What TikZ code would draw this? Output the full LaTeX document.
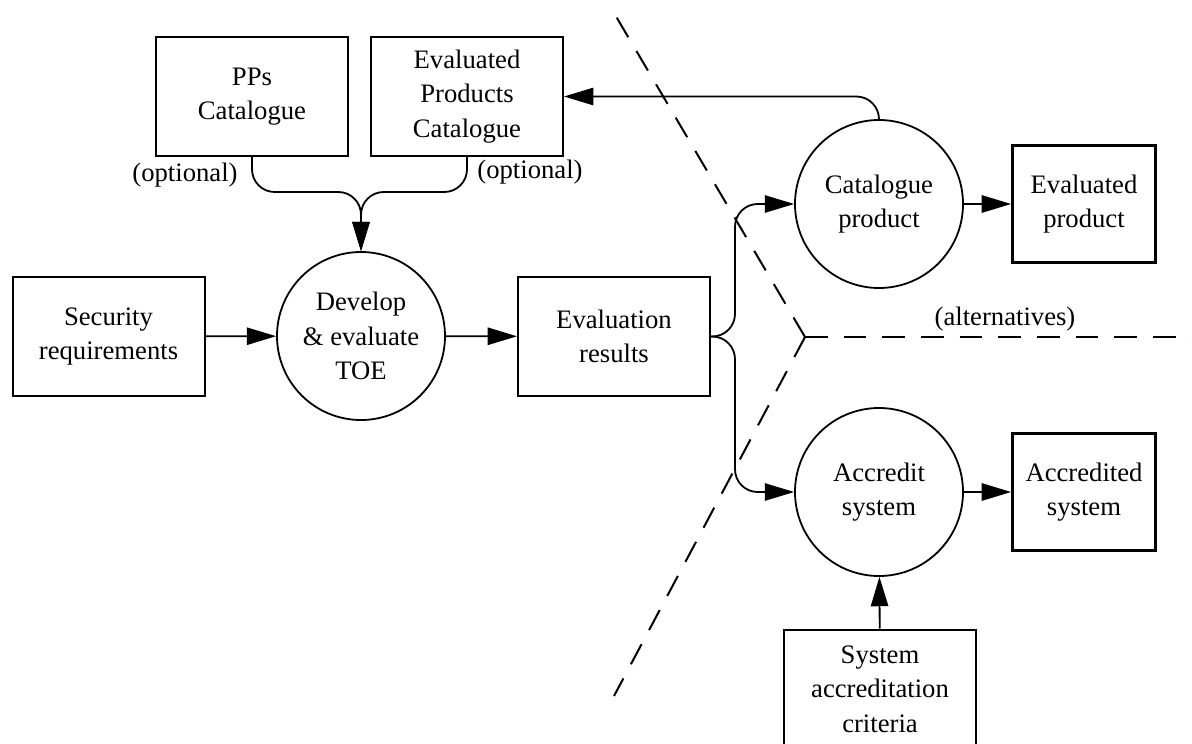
\documentclass[tikz,border=0pt]{standalone}
\usepackage{fontspec}
\setmainfont{Liberation Serif}
\usetikzlibrary{arrows.meta}

\tikzset{every picture/.style={line width=1.35pt}}
\tikzset{
  datbox/.style={draw, line width=1.5pt, minimum width=144pt, minimum height=89pt, align=center, inner sep=0pt},
  outbox/.style={draw, line width=2.4pt, minimum width=107pt, minimum height=88pt, align=center, inner sep=0pt},
  procirc/.style={draw, circle, minimum size=126pt, align=center, inner sep=0pt},
  flow/.style={-{Triangle[length=22pt,width=13pt]}, rounded corners=17pt},
  divider/.style={dash pattern=on 17pt off 12pt, line width=1.5pt},
}

\begin{document}
\begin{tikzpicture}[x=0.75pt,y=0.75pt,yscale=-1,xscale=1,font=\fontsize{20}{26}\selectfont]
\useasboundingbox (0,0) rectangle (1192,743);

%Shape: Rectangle
\node[datbox] (pps) at (252,96.5) {PPs\\Catalogue};
\node[datbox] (epc) at (467,96.5) {Evaluated\\Products\\Catalogue};
\node[datbox] (sec) at (108.5,336.5) {Security\\requirements};
\node[datbox] (evr) at (614,336.5) {Evaluation\\results};
\node[datbox] (crit) at (880,689) {System\\accreditation\\criteria};
%Shape: Rectangle (outputs)
\node[outbox] (evp) at (1084,204) {Evaluated\\product};
\node[outbox] (accs) at (1084,492) {Accredited\\system};

%Shape: Circle
\node[procirc] (dev) at (361,336) {Develop\\\& evaluate\\TOE};
\node[procirc] (cat) at (879,204) {Catalogue\\product};
\node[procirc] (acc) at (879,492) {Accredit\\system};

% Text Node
\node (opt1) at (185,175) {(optional)};
\node (opt2) at (530,172) {(optional)};
\node (alt) at (1005,319) {(alternatives)};

%Straight Lines
\coordinate (join) at (361,192);
\coordinate (fork) at (735,336.5);
\draw[flow] (pps.south) |- (join) -- (dev.north);
\draw[flow] (epc.south) |- (join) -- (dev.north);
\draw[flow] (sec) -- (dev);
\draw[flow] (dev) -- (evr);
\draw[flow] (evr.east) -- (fork) |- (cat.west);
\draw[flow] (evr.east) -- (fork) |- (acc.west);
\draw[flow] (cat.north) |- (epc.east);
\draw[flow] (cat) -- (evp);
\draw[flow] (acc) -- (accs);
\draw[flow] (crit) -- (acc);

%Dashed Lines
\coordinate (vtx) at (805,337);
\coordinate (dtop) at (614,13);
\coordinate (dbot) at (614,696);
\coordinate (dright) at (1192,337);
\draw[divider] (vtx) -- (dtop);
\draw[divider] (vtx) -- (dbot);
\draw[divider] (vtx) -- (dright);

\end{tikzpicture}
\end{document}
